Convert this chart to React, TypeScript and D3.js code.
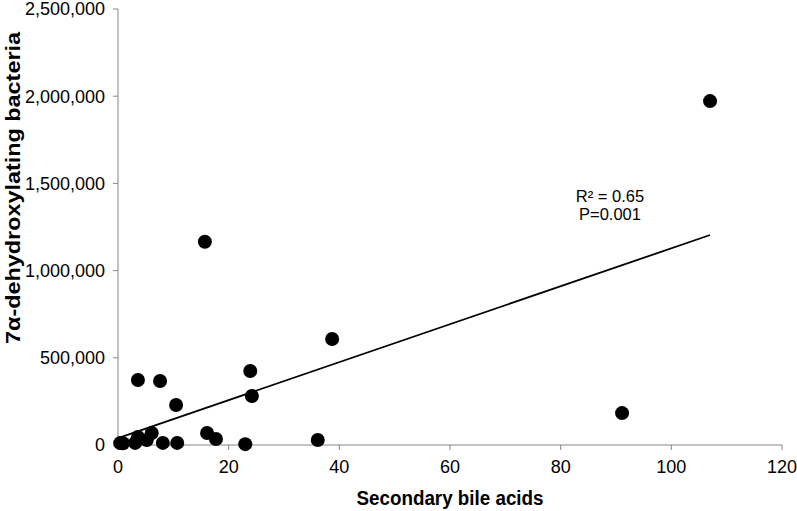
import React from "react";
import * as d3 from "d3";

const xValues = [0.4, 0.9, 3.1, 3.6, 5.2, 6.1, 8.1, 10.7, 3.6, 7.6, 10.5, 15.7, 16.1, 17.7, 23.0, 23.9, 24.2, 36.1, 38.7, 91.1, 107.0];
const yValues = [11000, 10000, 12000, 46000, 29000, 69000, 12000, 12000, 373000, 367000, 229000, 1165000, 69000, 34000, 5000, 424000, 281000, 29000, 608000, 183000, 1972000];
const trendX = [0, 107];
const trendY = [40000, 1204000];
const xTicks = [0, 20, 40, 60, 80, 100, 120];
const yTicks = [0, 500000, 1000000, 1500000, 2000000, 2500000];
const annotation = ["R² = 0.65", "P=0.001"];

export default function App() {
  const W = 797, H = 511;
  const left = 118, right = 782, top = 9, bottom = 445;
  const x = d3.scaleLinear().domain([0, 120]).range([left, right]);
  const y = d3.scaleLinear().domain([0, 2500000]).range([bottom, top]);
  const fmt = d3.format(",");
  const axisColor = "#868686";
  const font = "Liberation Sans, Arial, sans-serif";
  const line = d3.line<number>().x((d, i) => x(trendX[i])).y((d, i) => y(trendY[i]));
  return (
    <svg width={W} height={H} style={{ position: "absolute", left: 0, top: 0, background: "#fff" }}>
      <rect width={W} height={H} fill="#fff" />
      <line x1={left} x2={left} y1={top} y2={bottom} stroke={axisColor} strokeWidth={1} />
      <line x1={left} x2={right} y1={bottom} y2={bottom} stroke={axisColor} strokeWidth={1} />
      {yTicks.map((t) => (
        <g key={"y" + t}>
          <line x1={left - 5} x2={left} y1={y(t)} y2={y(t)} stroke={axisColor} />
          <text x={105} y={y(t)} dy="0.35em" textAnchor="end" fontFamily={font} fontSize={18} fill="#000">
            {fmt(t)}
          </text>
        </g>
      ))}
      {xTicks.map((t) => (
        <g key={"x" + t}>
          <line x1={x(t)} x2={x(t)} y1={bottom} y2={bottom + 5} stroke={axisColor} />
          <text x={x(t)} y={467} dy="0.35em" textAnchor="middle" fontFamily={font} fontSize={18} fill="#000">
            {t}
          </text>
        </g>
      ))}
      <path d={line(trendX) || ""} fill="none" stroke="#000" strokeWidth={1.8} />
      {xValues.map((v, i) => (
        <circle key={i} cx={x(v)} cy={y(yValues[i])} r={7} fill="#000" />
      ))}
      {annotation.map((s, i) => (
        <text key={s} x={610} y={196 + i * 18} dy="0.35em" textAnchor="middle" fontFamily={font} fontSize={16.5} fill="#000">
          {s}
        </text>
      ))}
      <text x={450} y={498} dy="0.35em" textAnchor="middle" fontFamily={font} fontWeight="bold" fontSize={20}
        textLength={187} lengthAdjust="spacingAndGlyphs">
        Secondary bile acids
      </text>
      <text transform={`translate(13,188) rotate(-90)`} dy="0.35em" textAnchor="middle" fontFamily={font} fontWeight="bold" fontSize={20}
        textLength={312} lengthAdjust="spacingAndGlyphs">
        7α-dehydroxylating bacteria
      </text>
    </svg>
  );
}
